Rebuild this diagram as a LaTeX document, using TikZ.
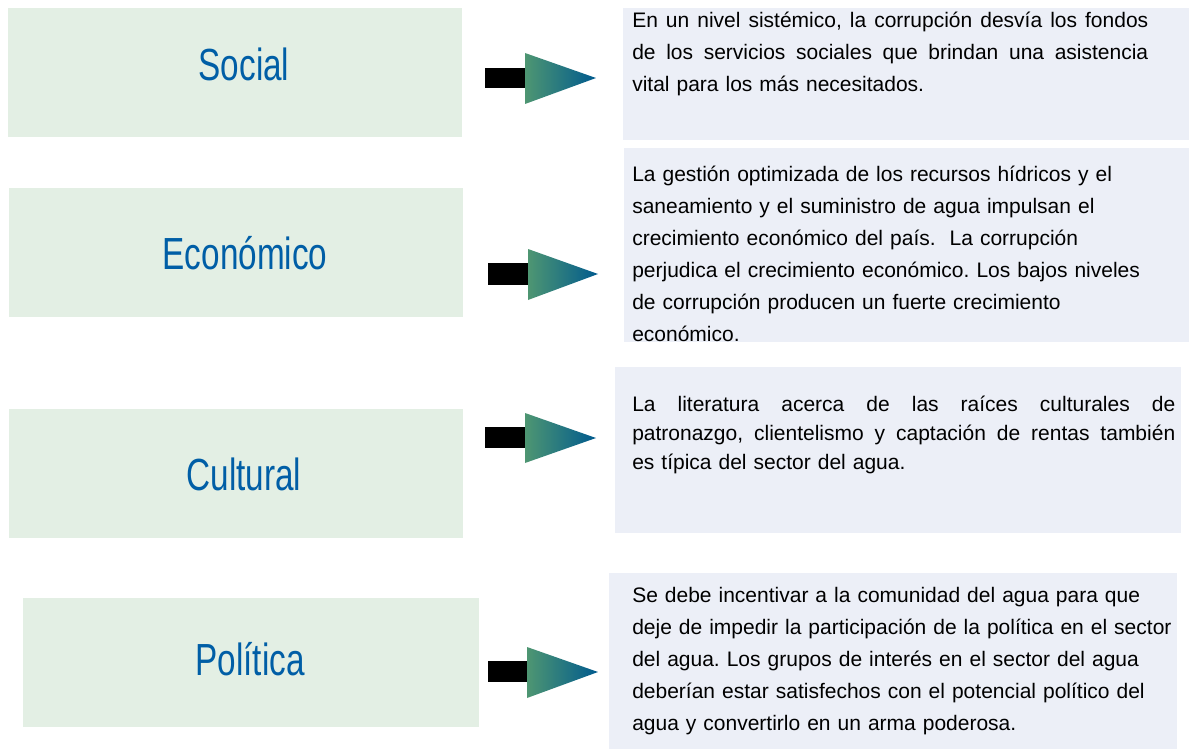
\documentclass[tikz,border=0pt]{standalone}
\usepackage{fontspec}
\setmainfont{Liberation Sans}
\newfontfamily\labelfont[FakeStretch=0.74]{Liberation Sans}
\newdimen\pxu \pxu=0.75pt
\newcommand\jline[2]{\leavevmode\hbox to #1{\spaceskip=0.278em plus 1fil\relax #2}}
\definecolor{leftfill}{HTML}{E3EFE4}
\definecolor{rightfill}{HTML}{ECEFF7}
\definecolor{labelblue}{HTML}{005EA6}
\definecolor{arrowgreen}{HTML}{4E9672}
\definecolor{arrowblue}{HTML}{005A8E}
\tikzset{
  leftbox/.style={fill=leftfill, draw=none, anchor=north west, inner sep=0pt},
  rightbox/.style={fill=rightfill, draw=none, anchor=north west, inner sep=0pt},
  labeltext/.style={anchor=base, inner sep=0pt, text=labelblue, font=\labelfont\fontsize{33.75}{40}\selectfont},
  bodytext/.style={anchor=base west, inner sep=0pt, align=left, text width=560\pxu, font=\frenchspacing\fontsize{15.75}{24}\selectfont},
  arrowstem/.style={fill=black, draw=none},
  arrowhead/.style={left color=arrowgreen, right color=arrowblue, draw=none}
}
\begin{document}
\begin{tikzpicture}[x=0.75pt, y=-0.75pt]
\useasboundingbox (0,0) rectangle (1189,749);
% left boxes
\node[leftbox, minimum width=454\pxu, minimum height=129\pxu] (b1) at (8,8) {};
\node[leftbox, minimum width=454\pxu, minimum height=129\pxu] (b2) at (9,188) {};
\node[leftbox, minimum width=454\pxu, minimum height=129\pxu] (b3) at (9,409) {};
\node[leftbox, minimum width=456\pxu, minimum height=129\pxu] (b4) at (23,598) {};
\node[labeltext] (l1) at (244,80) {Social};
\node[labeltext] (l2) at (245,269) {Económico};
\node[labeltext] (l3) at (244,490) {Cultural};
\node[labeltext] (l4) at (250,675) {Política};
% right boxes
\node[rightbox, minimum width=566\pxu, minimum height=132\pxu] (r1) at (623,8) {};
\node[rightbox, minimum width=565\pxu, minimum height=194\pxu] (r2) at (624,148) {};
\node[rightbox, minimum width=566\pxu, minimum height=166\pxu] (r3) at (615,367) {};
\node[rightbox, minimum width=568\pxu, minimum height=176\pxu] (r4) at (609,573) {};
% texts
\node[bodytext] (t1) at (632,28) {%
\jline{516\pxu}{En un nivel sistémico, la corrupción desvía los fondos}\\
\jline{516\pxu}{de los servicios sociales que brindan una asistencia}\\
vital para los más necesitados.};
\node[bodytext] (t2) at (632,181) {%
La gestión optimizada de los recursos hídricos y el\\
saneamiento y el suministro de agua impulsan el\\
crecimiento económico del país.\ \ La corrupción\\
perjudica el crecimiento económico. Los bajos niveles\\
de corrupción producen un fuerte crecimiento\\
económico.};
\node[bodytext, font=\frenchspacing\fontsize{15.75}{21.75}\selectfont] (t3) at (632,411) {%
\jline{543\pxu}{La literatura acerca de las raíces culturales de}\\
\jline{543\pxu}{patronazgo, clientelismo y captación de rentas también}\\
es típica del sector del agua.};
\node[bodytext] (t4) at (632,602) {%
Se debe incentivar a la comunidad del agua para que\\
deje de impedir la participación de la política en el sector\\
del agua. Los grupos de interés en el sector del agua\\
deberían estar satisfechos con el potencial político del\\
agua y convertirlo en un arma poderosa.};
% arrows
\fill[arrowstem] (485,68) rectangle (526,88);
\shade[arrowhead] (525,53) -- (596,78) -- (525,104) -- cycle;
\fill[arrowstem] (488,263) rectangle (529,285);
\shade[arrowhead] (528,249) -- (598,274) -- (528,300) -- cycle;
\fill[arrowstem] (485,427) rectangle (526,448);
\shade[arrowhead] (525,413) -- (596,438) -- (525,463) -- cycle;
\fill[arrowstem] (488,661) rectangle (528,682);
\shade[arrowhead] (527,647) -- (598,672) -- (527,698) -- cycle;
\end{tikzpicture}
\end{document}
